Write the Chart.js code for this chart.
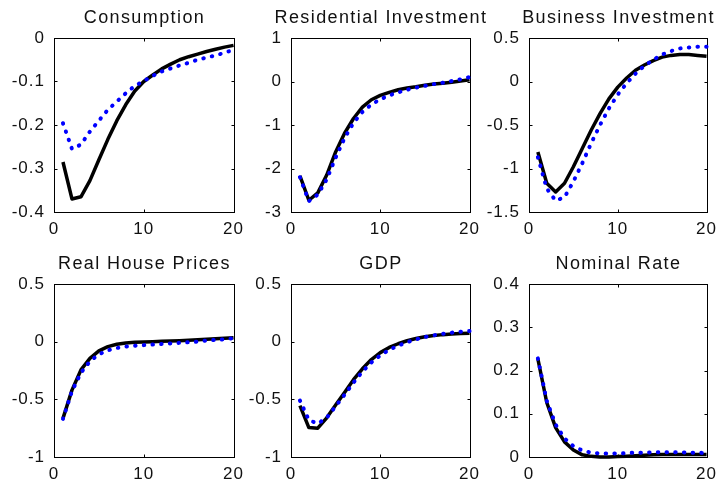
<!DOCTYPE html>
<html>
<head>
<meta charset="utf-8">
<script src="https://cdn.jsdelivr.net/npm/chart.js@4.4.0/dist/chart.umd.min.js"></script>
<style>
  html, body { margin: 0; padding: 0; background: #fff; width: 724px; height: 484px; overflow: hidden; }
  canvas { position: absolute; }
</style>
</head>
<body>
<script>
// ── data ─────────────────────────────────────────
const periods = [1, 2, 3, 4, 5, 6, 7, 8, 9, 10, 11, 12, 13, 14, 15, 16, 17, 18, 19, 20];
const xTicks = [0, 10, 20];

const consSolid  = [-0.285, -0.370, -0.365, -0.328, -0.280, -0.233, -0.190, -0.153, -0.122, -0.100, -0.085, -0.071, -0.060, -0.050, -0.043, -0.037, -0.031, -0.026, -0.021, -0.017];
const consDotted = [-0.196, -0.255, -0.245, -0.215, -0.190, -0.165, -0.146, -0.127, -0.110, -0.099, -0.087, -0.077, -0.070, -0.063, -0.057, -0.050, -0.045, -0.040, -0.034, -0.027];
const consTicks  = [-0.4, -0.3, -0.2, -0.1, 0];

const resSolid  = [-2.17, -2.73, -2.56, -2.15, -1.62, -1.19, -0.85, -0.59, -0.42, -0.32, -0.25, -0.19, -0.15, -0.12, -0.085, -0.06, -0.04, -0.015, 0.01, 0.04];
const resDotted = [-2.20, -2.75, -2.60, -2.25, -1.75, -1.30, -0.95, -0.70, -0.53, -0.41, -0.32, -0.25, -0.19, -0.14, -0.10, -0.06, -0.03, 0.01, 0.05, 0.10];
const resTicks  = [-3, -2, -1, 0, 1];

const busSolid  = [-0.81, -1.17, -1.27, -1.17, -0.98, -0.77, -0.56, -0.37, -0.20, -0.065, 0.04, 0.13, 0.19, 0.24, 0.28, 0.30, 0.31, 0.31, 0.30, 0.29];
const busDotted = [-0.87, -1.23, -1.37, -1.33, -1.15, -0.94, -0.71, -0.50, -0.31, -0.15, -0.02, 0.09, 0.18, 0.25, 0.31, 0.35, 0.38, 0.39, 0.40, 0.40];
const busTicks  = [-1.5, -1, -0.5, 0, 0.5];

const houseSolid  = [-0.665, -0.42, -0.245, -0.145, -0.08, -0.043, -0.023, -0.012, -0.006, -0.003, 0.0, 0.003, 0.006, 0.009, 0.012, 0.016, 0.020, 0.025, 0.030, 0.035];
const houseDotted = [-0.67, -0.43, -0.27, -0.17, -0.11, -0.075, -0.055, -0.043, -0.035, -0.030, -0.025, -0.020, -0.015, -0.010, -0.005, 0.0, 0.010, 0.015, 0.020, 0.030];
const houseTicks  = [-1, -0.5, 0, 0.5];

const gdpSolid  = [-0.555, -0.745, -0.75, -0.66, -0.55, -0.44, -0.33, -0.235, -0.155, -0.095, -0.05, -0.018, 0.008, 0.027, 0.042, 0.053, 0.061, 0.067, 0.070, 0.073];
const gdpDotted = [-0.51, -0.68, -0.71, -0.66, -0.56, -0.46, -0.355, -0.26, -0.18, -0.12, -0.07, -0.035, -0.005, 0.02, 0.04, 0.055, 0.068, 0.078, 0.086, 0.092];
const gdpTicks  = [-1, -0.5, 0, 0.5];

const rateSolid  = [0.227, 0.126, 0.068, 0.035, 0.016, 0.005, 0.0015, 0.0, 0.0, 0.001, 0.002, 0.003, 0.004, 0.005, 0.006, 0.006, 0.006, 0.006, 0.006, 0.006];
const rateDotted = [0.228, 0.130, 0.075, 0.043, 0.025, 0.015, 0.010, 0.008, 0.008, 0.008, 0.009, 0.010, 0.010, 0.011, 0.011, 0.011, 0.011, 0.010, 0.010, 0.009];
const rateTicks  = [0, 0.1, 0.2, 0.3, 0.4];

// ── layout: axes boxes [left, top, right, bottom] in page px ──
const panels = [
  { title: 'Consumption',            solid: consSolid,  dotted: consDotted,  yTicks: consTicks,  box: [54, 38, 236, 212] },
  { title: 'Residential Investment', solid: resSolid,   dotted: resDotted,   yTicks: resTicks,   box: [291, 38, 472, 212] },
  { title: 'Business Investment',    solid: busSolid,   dotted: busDotted,   yTicks: busTicks,   box: [529, 38, 709, 212] },
  { title: 'Real House Prices',      solid: houseSolid, dotted: houseDotted, yTicks: houseTicks, box: [54, 284, 236, 457] },
  { title: 'GDP',                    solid: gdpSolid,   dotted: gdpDotted,   yTicks: gdpTicks,   box: [291, 284, 472, 457] },
  { title: 'Nominal Rate',           solid: rateSolid,  dotted: rateDotted,  yTicks: rateTicks,  box: [529, 284, 709, 457] },
];

const PAD_L = 55, PAD_T = 38, PAD_R = 14, PAD_B = 30;
const FONT = "'Liberation Sans', Arial, Helvetica, sans-serif";
const INK = '#111';

function axesPlugin(title) {
  return {
    id: 'matlabAxes',
    beforeDraw(chart) { chart.ctx.letterSpacing = '1px'; },
    beforeDatasetsDraw(chart) {
      const { ctx, chartArea: a, scales: { x, y } } = chart;
      ctx.save();
      ctx.strokeStyle = '#000';
      ctx.lineWidth = 1;
      const L = Math.round(a.left) + 0.5, T = Math.round(a.top) + 0.5;
      const R = Math.round(a.right) + 0.5, B = Math.round(a.bottom) + 0.5;
      ctx.strokeRect(L, T, R - L, B - T);
      ctx.beginPath();
      xTicks.forEach(v => {
        const px = Math.round(x.getPixelForValue(v)) + 0.5;
        ctx.moveTo(px, B); ctx.lineTo(px, B - 3);
        ctx.moveTo(px, T); ctx.lineTo(px, T + 3);
      });
      y.ticks.forEach(t => {
        const py = Math.round(y.getPixelForValue(t.value)) + 0.5;
        ctx.moveTo(L, py); ctx.lineTo(L + 3, py);
        ctx.moveTo(R, py); ctx.lineTo(R - 3, py);
      });
      ctx.stroke();
      ctx.restore();
    },
    afterDraw(chart) {
      const { ctx, chartArea: a } = chart;
      ctx.save();
      ctx.letterSpacing = '1.4px';
      ctx.font = `18px ${FONT}`;
      ctx.fillStyle = INK;
      ctx.textAlign = 'center';
      ctx.textBaseline = 'alphabetic';
      ctx.fillText(title, (a.left + a.right) / 2 + 0.7, a.top - 15);
      ctx.restore();
      ctx.letterSpacing = '0px';
    }
  };
}

function makePanel(p) {
  const [l, t, r, b] = p.box;
  const w = r - l + PAD_L + PAD_R, h = b - t + PAD_T + PAD_B;
  const cv = document.createElement('canvas');
  cv.width = w; cv.height = h;
  cv.style.left = (l - PAD_L) + 'px';
  cv.style.top = (t - PAD_T) + 'px';
  cv.style.width = w + 'px';
  cv.style.height = h + 'px';
  document.body.appendChild(cv);

  const tickFont = { family: FONT, size: 17 };
  new Chart(cv, {
    type: 'line',
    data: {
      datasets: [
        {
          data: periods.map((x, i) => ({ x, y: p.solid[i] })),
          borderColor: '#000', borderWidth: 3.5, pointRadius: 0,
          borderJoinStyle: 'round', order: 1, clip: false
        },
        {
          data: periods.map((x, i) => ({ x, y: p.dotted[i] })),
          borderColor: '#0000ff', borderWidth: 4, pointRadius: 0,
          borderDash: [0.5, 8.2], borderCapStyle: 'round', order: 0, clip: false
        }
      ]
    },
    options: {
      responsive: false, animation: false, devicePixelRatio: 1,
      layout: { padding: { left: 0, top: PAD_T, right: PAD_R, bottom: 0 } },
      plugins: { legend: { display: false }, tooltip: { enabled: false }, title: { display: false } },
      scales: {
        x: {
          type: 'linear', min: 0, max: 20,
          afterBuildTicks: s => { s.ticks = xTicks.map(v => ({ value: v })); },
          afterFit: s => { s.height = PAD_B; },
          grid: { display: false, drawTicks: false }, border: { display: false },
          ticks: { padding: 7, maxRotation: 0, autoSkip: false, color: INK, font: tickFont, callback: v => String(v) }
        },
        y: {
          type: 'linear', min: p.yTicks[0], max: p.yTicks[p.yTicks.length - 1],
          afterBuildTicks: s => { s.ticks = p.yTicks.map(v => ({ value: v })); },
          afterFit: s => { s.width = PAD_L; },
          grid: { display: false, drawTicks: false }, border: { display: false },
          ticks: { padding: 9, autoSkip: false, color: INK, font: tickFont, callback: v => String(v) }
        }
      }
    },
    plugins: [axesPlugin(p.title)]
  });
}

panels.forEach(makePanel);
</script>
</body>
</html>
